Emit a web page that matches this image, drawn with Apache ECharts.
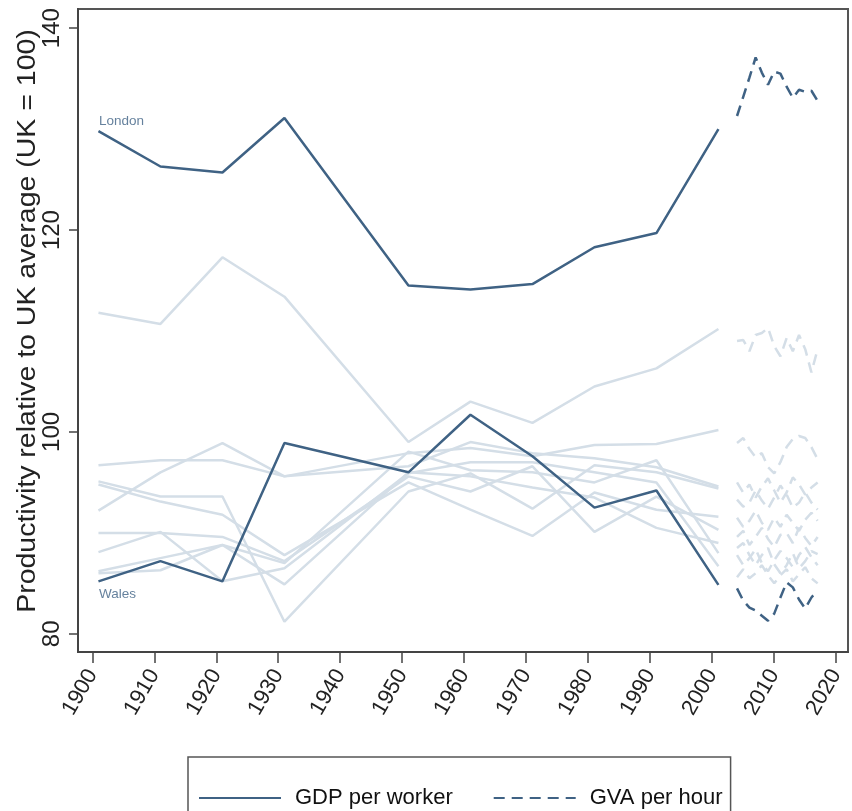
<!DOCTYPE html>
<html>
<head>
<meta charset="utf-8">
<script src="https://cdn.jsdelivr.net/npm/echarts@6/dist/echarts.min.js"></script>
<style>html,body{margin:0;padding:0;background:#fff}#c{width:852px;height:811px}</style>
</head>
<body>
<div id="c"></div>
<script>
// ---- data ----
const censusYears = [1901, 1911, 1921, 1931, 1951, 1961, 1971, 1981, 1991, 2001];
const gvaYears = [2004, 2005, 2006, 2007, 2008, 2009, 2010, 2011, 2012, 2013, 2014, 2015, 2016, 2017];
const xTicks = [1900, 1910, 1920, 1930, 1940, 1950, 1960, 1970, 1980, 1990, 2000, 2010, 2020];
const yTicks = [80, 100, 120, 140];

const londonGDP = [129.8, 126.3, 125.7, 131.1, 114.5, 114.1, 114.65, 118.3, 119.7, 130.0];
const walesGDP  = [85.2, 87.2, 85.2, 98.9, 96.0, 101.7, 97.6, 92.5, 94.2, 84.85];
const londonGVA = [131.3, 133.2, 135.1, 137.1, 135.6, 134.4, 135.7, 135.5, 134.2, 133.1, 133.9, 133.7, 133.8, 132.8];
const walesGVA  = [84.5, 83.3, 82.6, 82.3, 81.8, 81.3, 82.0, 83.6, 85.1, 84.6, 83.4, 82.5, 83.6, 84.3];

const otherGDP1 = [111.8, 110.7, 117.3, 113.4, 99.0, 103.0, 100.9, 104.5, 106.3, 110.2];
const otherGDP2 = [96.7, 97.2, 97.2, 95.6, 97.9, 98.4, 97.6, 98.7, 98.8, 100.2];
const otherGDP3 = [92.2, 96.0, 98.9, 95.6, 96.6, 99.0, 97.9, 97.4, 96.5, 94.6];
const otherGDP4 = [95.1, 93.6, 93.6, 81.2, 94.1, 95.9, 92.4, 96.7, 96.0, 94.4];
const otherGDP5 = [94.8, 93.1, 91.8, 87.8, 95.0, 92.3, 89.7, 94.0, 92.3, 91.6];
const otherGDP6 = [90.0, 90.0, 89.6, 87.2, 95.6, 94.1, 96.6, 90.1, 93.6, 90.3];
const otherGDP7 = [88.1, 90.1, 85.2, 86.5, 95.9, 97.0, 97.0, 96.0, 95.0, 86.7];
const otherGDP8 = [86.2, 87.5, 88.8, 87.0, 98.05, 96.2, 96.0, 95.0, 97.2, 88.0];
const otherGDP9 = [86.0, 86.3, 88.8, 84.9, 96.0, 95.6, 94.5, 93.5, 90.5, 89.0];

const otherGVA1 = [109.0, 109.1, 108.0, 109.6, 109.8, 110.3, 108.5, 107.5, 109.3, 108.0, 109.6, 108.2, 105.9, 108.2];
const otherGVA2 = [98.9, 99.4, 98.3, 97.5, 97.9, 96.5, 95.9, 97.0, 98.5, 99.3, 99.6, 99.4, 98.5, 97.3];
const otherGVA3 = [95.0, 94.0, 94.8, 93.5, 94.6, 95.4, 94.2, 93.0, 94.0, 95.5, 94.8, 93.8, 94.5, 95.0];
const otherGVA4 = [93.3, 92.6, 93.0, 94.2, 93.2, 92.4, 93.5, 94.7, 93.8, 92.5, 93.0, 94.0, 93.0, 92.3];
const otherGVA5 = [91.5, 90.6, 91.2, 92.2, 91.0, 90.3, 91.5, 90.6, 91.8, 91.0, 90.2, 91.3, 92.0, 91.2];
const otherGVA6 = [89.6, 90.2, 88.8, 89.6, 90.5, 89.4, 88.6, 89.8, 90.0, 89.0, 90.5, 89.5, 88.7, 89.6];
const otherGVA7 = [87.8, 86.8, 87.5, 88.4, 87.0, 86.2, 87.3, 88.2, 87.5, 86.6, 87.8, 88.6, 87.6, 86.8];
const otherGVA8 = [88.5, 89.0, 87.8, 86.8, 87.8, 88.5, 86.9, 86.0, 86.8, 88.0, 86.5, 87.2, 88.2, 87.9];
const otherGVA9 = [85.6, 86.4, 85.5, 86.0, 86.8, 85.8, 85.0, 85.8, 86.4, 85.2, 85.9, 86.6, 85.5, 85.0];

const labelNames = ['London', 'Wales'];
const labelValues = [londonGDP[0], walesGDP[0]];

// ---- chart ----
const DARK = '#3f6284';
const LIGHT = '#d4dee7';
const FONT = 'Liberation Sans, Arial, Helvetica, sans-serif';
const DASH = [11, 7];

const pair = (xs, ys) => xs.map((x, i) => [x, ys[i]]);

const otherGDP = [otherGDP1, otherGDP2, otherGDP3, otherGDP4, otherGDP5, otherGDP6, otherGDP7, otherGDP8, otherGDP9];
const otherGVA = [otherGVA1, otherGVA2, otherGVA3, otherGVA4, otherGVA5, otherGVA6, otherGVA7, otherGVA8, otherGVA9];

const series = [];
otherGDP.forEach((arr, i) => series.push({
  name: 'Other region ' + (i + 1), type: 'line', symbol: 'none', silent: true,
  data: pair(censusYears, arr), lineStyle: { color: LIGHT, width: 2.5 }, z: 2
}));
otherGVA.forEach((arr, i) => series.push({
  name: 'Other region ' + (i + 1) + ' GVA', type: 'line', symbol: 'none', silent: true,
  data: pair(gvaYears, arr), lineStyle: { color: LIGHT, width: 2.5, type: DASH }, z: 2
}));
series.push({ name: 'GDP per worker', type: 'line', symbol: 'none', data: pair(censusYears, londonGDP),
  itemStyle: { color: DARK }, lineStyle: { color: DARK, width: 2.5 }, z: 3 });
series.push({ name: 'GDP per worker', type: 'line', symbol: 'none', data: pair(censusYears, walesGDP),
  itemStyle: { color: DARK }, lineStyle: { color: DARK, width: 2.5 }, z: 3 });
series.push({ name: 'GVA per hour', type: 'line', symbol: 'none', data: pair(gvaYears, londonGVA),
  itemStyle: { color: DARK }, lineStyle: { color: DARK, width: 2.5, type: DASH }, z: 3 });
series.push({ name: 'GVA per hour', type: 'line', symbol: 'none', data: pair(gvaYears, walesGVA),
  itemStyle: { color: DARK }, lineStyle: { color: DARK, width: 2.5, type: DASH }, z: 3 });
series.push({
  name: 'labels', type: 'scatter', symbolSize: 1, silent: true,
  itemStyle: { color: 'rgba(0,0,0,0)' },
  data: labelNames.map((n, i) => ({
    value: [censusYears[0], labelValues[i], n],
    label: { position: i === 0 ? [1, -9] : [1, 13] }
  })),
  label: { show: true, formatter: p => p.value[2], color: DARK, fontSize: 13.5,
    fontFamily: FONT, align: 'left', verticalAlign: 'middle' },
  z: 4
});

const chart = echarts.init(document.getElementById('c'), null, { renderer: 'canvas' });
chart.setOption({
  animation: false,
  backgroundColor: '#fff',
  grid: { left: 78, right: 4, top: 9, bottom: 159, show: true, borderColor: '#555', borderWidth: 2, backgroundColor: '#fff' },
  xAxis: {
    type: 'value', min: 1897.7, max: 2021.9,
    splitLine: { show: false },
    axisLine: { show: true, lineStyle: { color: '#444', width: 2 } },
    axisTick: { show: true, length: 11, customValues: xTicks, lineStyle: { color: '#444', width: 1.5 } },
    axisLabel: { customValues: xTicks, rotate: 60, fontSize: 22, color: '#222', fontFamily: FONT, margin: 19,
      formatter: v => String(v) }
  },
  yAxis: {
    type: 'value', min: 78.2, max: 141.9,
    splitLine: { show: false },
    axisLine: { show: true, lineStyle: { color: '#444', width: 2 } },
    axisTick: { show: true, length: 9, customValues: yTicks, lineStyle: { color: '#444', width: 1.5 } },
    axisLabel: { customValues: yTicks, rotate: 90, fontSize: 24, color: '#222', fontFamily: FONT, margin: 14 }
  },
  legend: {
    left: 188, top: 757,
    data: ['GDP per worker', 'GVA per hour'],
    padding: [30, 8, 30, 10],
    itemWidth: 82, itemHeight: 14, itemGap: 40,
    itemStyle: { opacity: 0 },
    borderColor: '#555', borderWidth: 1.5, borderRadius: 0,
    textStyle: { fontSize: 22, color: '#111', fontFamily: FONT, padding: [0, 0, 0, 9] },
    selectedMode: false
  },
  graphic: [{
    type: 'text', x: 28, y: 321, rotation: Math.PI / 2, scaleX: 1.14,
    style: { text: 'Productivity relative to UK average (UK = 100)', font: '25px ' + FONT,
      fill: '#222', textAlign: 'center', textVerticalAlign: 'middle' }
  }],
  series: series
});
</script>
</body>
</html>
